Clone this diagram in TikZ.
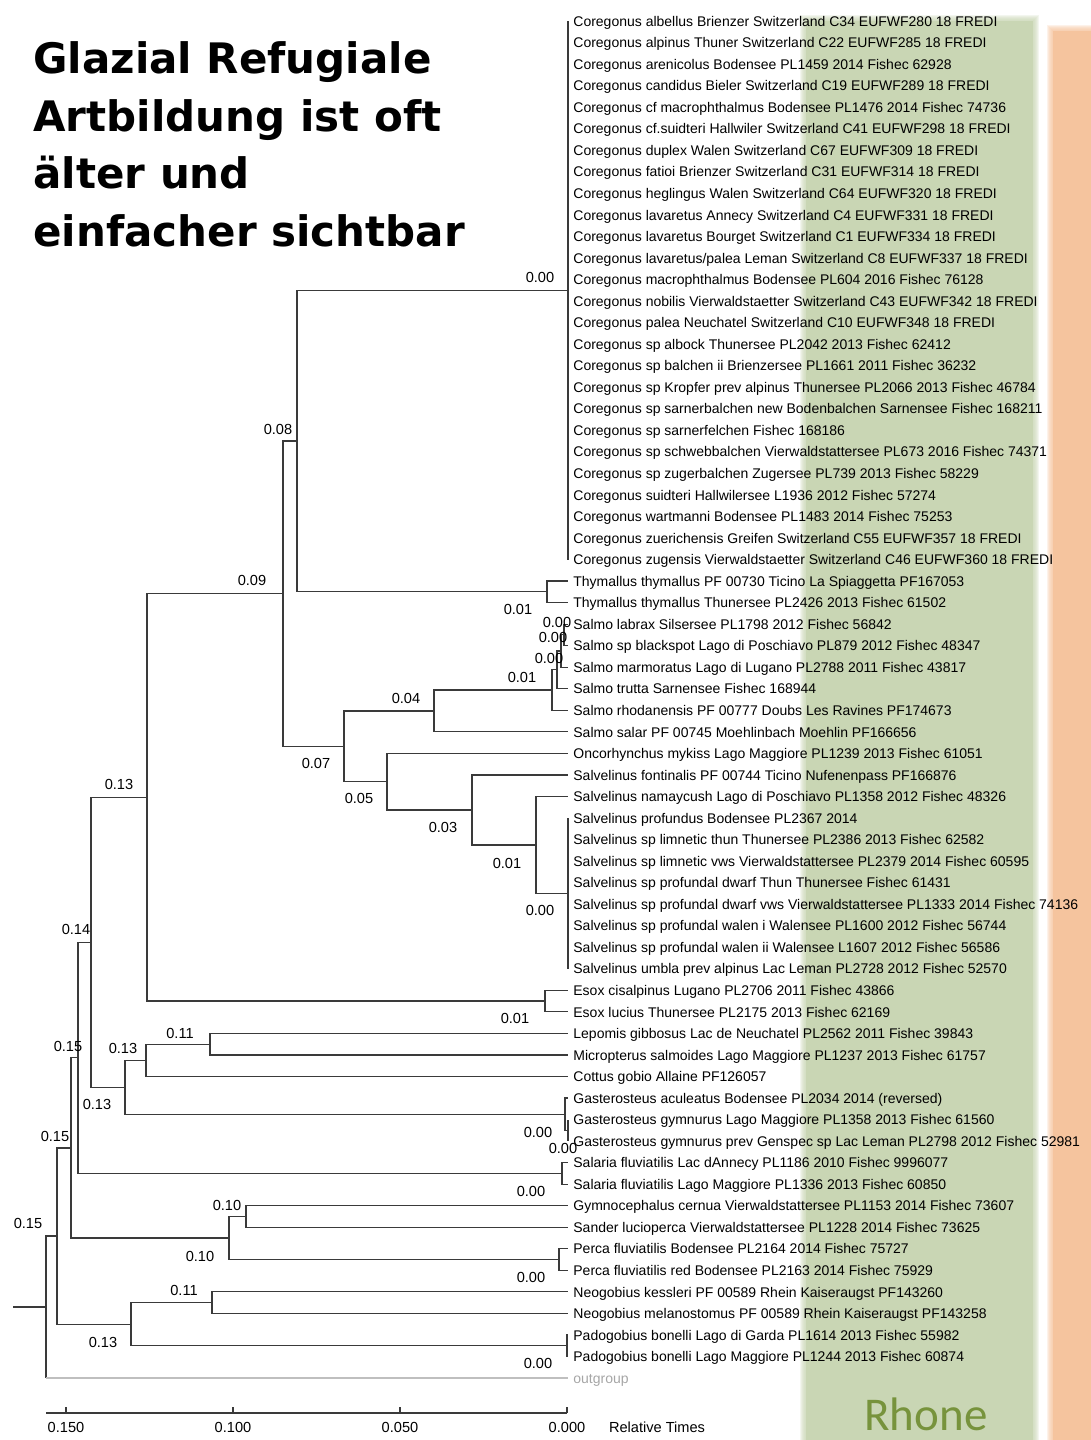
\documentclass[tikz,border=0pt]{standalone}
\usepackage{fontspec}
\usepackage{tikz}
\newfontfamily\treefont{Liberation Sans}
\newfontfamily\titlefont{DejaVu Sans}
\newfontfamily\rhonefont{Carlito}
\definecolor{bandgreen}{HTML}{C9D6B4}
\definecolor{bandorange}{HTML}{F5C49E}
\definecolor{rhonegreen}{HTML}{77933C}
\definecolor{branchgray}{HTML}{3A3A3A}

\begin{document}
\begin{tikzpicture}[
    x=0.5pt, y=-0.5pt,
    branch/.style={draw=branchgray, line width=0.6pt},
    outbranch/.style={draw=black!25, line width=0.6pt},
    leaf/.style={anchor=west, inner sep=0pt, text height=1.6ex, text depth=0.4ex,
                 font=\treefont\fontsize{7}{8}\selectfont},
    age/.style={inner sep=0pt, font=\treefont\fontsize{7.3}{8}\selectfont},
    title/.style={anchor=base west, inner sep=0pt,
                  font=\titlefont\bfseries\fontsize{21}{25}\selectfont},
  ]
  \useasboundingbox (0,0) rectangle (1091,1440);

  % coloured bands behind the tip labels, with soft edges
  \fill[bandgreen] (806,21) rectangle (1033,1440);
  \foreach \k in {1,...,6}
    \fill[bandgreen, opacity=0.22] (806-\k,21-\k) rectangle (1033+\k,1440);
  \fill[bandorange] (1053,31) rectangle (1091,1440);
  \foreach \k in {1,...,6}
    \fill[bandorange, opacity=0.22] (1053-\k,31-\k) rectangle (1091,1440);
  \node[anchor=base, inner sep=0pt, text=rhonegreen,
        font=\rhonefont\fontsize{23.5}{26}\selectfont] (rhone) at (926,1430) {Rhone};

  % title
  \node[title] (title1) at (33,73) {Glazial Refugiale};
  \node[title] (title2) at (33,131) {Artbildung ist oft};
  \node[title] (title3) at (33,188) {älter und};
  \node[title] (title4) at (33,246) {einfacher sichtbar};

  % tips
  \foreach \name [count=\i] in {
    {Coregonus albellus Brienzer Switzerland C34 EUFWF280 18 FREDI},
    {Coregonus alpinus Thuner Switzerland C22 EUFWF285 18 FREDI},
    {Coregonus arenicolus Bodensee PL1459 2014 Fishec 62928},
    {Coregonus candidus Bieler Switzerland C19 EUFWF289 18 FREDI},
    {Coregonus cf macrophthalmus Bodensee PL1476 2014 Fishec 74736},
    {Coregonus cf.suidteri Hallwiler Switzerland C41 EUFWF298 18 FREDI},
    {Coregonus duplex Walen Switzerland C67 EUFWF309 18 FREDI},
    {Coregonus fatioi Brienzer Switzerland C31 EUFWF314 18 FREDI},
    {Coregonus heglingus Walen Switzerland C64 EUFWF320 18 FREDI},
    {Coregonus lavaretus Annecy Switzerland C4 EUFWF331 18 FREDI},
    {Coregonus lavaretus Bourget Switzerland C1 EUFWF334 18 FREDI},
    {Coregonus lavaretus/palea Leman Switzerland C8 EUFWF337 18 FREDI},
    {Coregonus macrophthalmus Bodensee PL604 2016 Fishec 76128},
    {Coregonus nobilis Vierwaldstaetter Switzerland C43 EUFWF342 18 FREDI},
    {Coregonus palea Neuchatel Switzerland C10 EUFWF348 18 FREDI},
    {Coregonus sp albock Thunersee PL2042 2013 Fishec 62412},
    {Coregonus sp balchen ii Brienzersee PL1661 2011 Fishec 36232},
    {Coregonus sp Kropfer prev alpinus Thunersee PL2066 2013 Fishec 46784},
    {Coregonus sp sarnerbalchen new Bodenbalchen Sarnensee Fishec 168211},
    {Coregonus sp sarnerfelchen Fishec 168186},
    {Coregonus sp schwebbalchen Vierwaldstattersee PL673 2016 Fishec 74371},
    {Coregonus sp zugerbalchen Zugersee PL739 2013 Fishec 58229},
    {Coregonus suidteri Hallwilersee L1936 2012 Fishec 57274},
    {Coregonus wartmanni Bodensee PL1483 2014 Fishec 75253},
    {Coregonus zuerichensis Greifen Switzerland C55 EUFWF357 18 FREDI},
    {Coregonus zugensis Vierwaldstaetter Switzerland C46 EUFWF360 18 FREDI},
    {Thymallus thymallus PF 00730 Ticino La Spiaggetta PF167053},
    {Thymallus thymallus Thunersee PL2426 2013 Fishec 61502},
    {Salmo labrax Silsersee PL1798 2012 Fishec 56842},
    {Salmo sp blackspot Lago di Poschiavo PL879 2012 Fishec 48347},
    {Salmo marmoratus Lago di Lugano PL2788 2011 Fishec 43817},
    {Salmo trutta Sarnensee Fishec 168944},
    {Salmo rhodanensis PF 00777 Doubs Les Ravines PF174673},
    {Salmo salar PF 00745 Moehlinbach Moehlin PF166656},
    {Oncorhynchus mykiss Lago Maggiore PL1239 2013 Fishec 61051},
    {Salvelinus fontinalis PF 00744 Ticino Nufenenpass PF166876},
    {Salvelinus namaycush Lago di Poschiavo PL1358 2012 Fishec 48326},
    {Salvelinus profundus Bodensee PL2367 2014},
    {Salvelinus sp limnetic thun Thunersee PL2386 2013 Fishec 62582},
    {Salvelinus sp limnetic vws Vierwaldstattersee PL2379 2014 Fishec 60595},
    {Salvelinus sp profundal dwarf Thun Thunersee Fishec 61431},
    {Salvelinus sp profundal dwarf vws Vierwaldstattersee PL1333 2014 Fishec 74136},
    {Salvelinus sp profundal walen i Walensee PL1600 2012 Fishec 56744},
    {Salvelinus sp profundal walen ii Walensee L1607 2012 Fishec 56586},
    {Salvelinus umbla prev alpinus Lac Leman PL2728 2012 Fishec 52570},
    {Esox cisalpinus Lugano PL2706 2011 Fishec 43866},
    {Esox lucius Thunersee PL2175 2013 Fishec 62169},
    {Lepomis gibbosus Lac de Neuchatel PL2562 2011 Fishec 39843},
    {Micropterus salmoides Lago Maggiore PL1237 2013 Fishec 61757},
    {Cottus gobio Allaine PF126057},
    {Gasterosteus aculeatus Bodensee PL2034 2014 (reversed)},
    {Gasterosteus gymnurus Lago Maggiore PL1358 2013 Fishec 61560},
    {Gasterosteus gymnurus prev Genspec sp Lac Leman PL2798 2012 Fishec 52981},
    {Salaria fluviatilis Lac dAnnecy PL1186 2010 Fishec 9996077},
    {Salaria fluviatilis Lago Maggiore PL1336 2013 Fishec 60850},
    {Gymnocephalus cernua Vierwaldstattersee PL1153 2014 Fishec 73607},
    {Sander lucioperca Vierwaldstattersee PL1228 2014 Fishec 73625},
    {Perca fluviatilis Bodensee PL2164 2014 Fishec 75727},
    {Perca fluviatilis red Bodensee PL2163 2014 Fishec 75929},
    {Neogobius kessleri PF 00589 Rhein Kaiseraugst PF143260},
    {Neogobius melanostomus PF 00589 Rhein Kaiseraugst PF143258},
    {Padogobius bonelli Lago di Garda PL1614 2013 Fishec 55982},
    {Padogobius bonelli Lago Maggiore PL1244 2013 Fishec 60874}} {
    \coordinate (t\i) at (568,{21+(\i-1)*21.54});
    \node[leaf] (l\i) at (573,{21+(\i-1)*21.54}) {\name};
  }
  \coordinate (t64) at (568,1378.02);
  \node[leaf, text=black!35] (l64) at (573,1378.02) {outgroup};

  % internal nodes
  \coordinate (cor) at (568,290.25);
  \coordinate (thy) at (547,591.81);
  \coordinate (cothy) at (297,441.03);
  \coordinate (s1) at (564,634.89);
  \coordinate (s2) at (561,651.05);
  \coordinate (s3) at (557,669.89);
  \coordinate (salmo) at (552,690.09);
  \coordinate (salar) at (434,710.95);
  \coordinate (pro) at (568,893.37);
  \coordinate (nam) at (536,844.90);
  \coordinate (fon) at (472,809.90);
  \coordinate (onc) at (387,781.63);
  \coordinate (salm) at (344,746.29);
  \coordinate (salmon) at (283,593.66);
  \coordinate (esox) at (545,1001.07);
  \coordinate (esalm) at (147,797.37);
  \coordinate (lep) at (210,1044.15);
  \coordinate (cott) at (146,1060.31);
  \coordinate (gas2) at (568,1130.31);
  \coordinate (gas1) at (565,1114.16);
  \coordinate (perc) at (125,1087.24);
  \coordinate (d) at (91,942.31);
  \coordinate (sal) at (562,1173.39);
  \coordinate (c) at (78,1057.85);
  \coordinate (gym) at (246,1216.47);
  \coordinate (perca) at (559,1259.55);
  \coordinate (pc) at (229,1238.01);
  \coordinate (b) at (71,1147.93);
  \coordinate (neo) at (212,1302.63);
  \coordinate (pad) at (567,1345.71);
  \coordinate (gob) at (131,1324.17);
  \coordinate (a) at (57,1236.05);
  \coordinate (root) at (46,1307.04);
  \coordinate (stub) at (13,1307.04);

  % branches
  \draw[branch] (stub) -- (root);
  \draw[branch] (root) |- (a);
  \draw[branch] (root) -- (root |- t64);
  \draw[outbranch] (root |- t64) -- (t64);
  \draw[branch] (a) |- (b);
  \draw[branch] (a) |- (gob);
  \draw[branch] (b) |- (c);
  \draw[branch] (b) |- (pc);
  \draw[branch] (c) |- (d);
  \draw[branch] (c) |- (sal);
  \draw[branch] (d) |- (esalm);
  \draw[branch] (d) |- (perc);
  \draw[branch] (esalm) |- (salmon);
  \draw[branch] (esalm) |- (esox);
  \draw[branch] (salmon) |- (cothy);
  \draw[branch] (salmon) |- (salm);
  \draw[branch] (cothy) |- (cor);
  \draw[branch] (cothy) |- (thy);
  \foreach \i in {1,...,26} \draw[branch] (cor) |- (t\i);
  \draw[branch] (thy) |- (t27);
  \draw[branch] (thy) |- (t28);
  \draw[branch] (salm) |- (salar);
  \draw[branch] (salm) |- (onc);
  \draw[branch] (salar) |- (salmo);
  \draw[branch] (salar) |- (t34);
  \draw[branch] (salmo) |- (s3);
  \draw[branch] (salmo) |- (t33);
  \draw[branch] (s3) |- (s2);
  \draw[branch] (s3) |- (t32);
  \draw[branch] (s2) |- (s1);
  \draw[branch] (s2) |- (t31);
  \draw[branch] (s1) |- (t29);
  \draw[branch] (s1) |- (t30);
  \draw[branch] (onc) |- (t35);
  \draw[branch] (onc) |- (fon);
  \draw[branch] (fon) |- (t36);
  \draw[branch] (fon) |- (nam);
  \draw[branch] (nam) |- (t37);
  \draw[branch] (nam) |- (pro);
  \foreach \i in {38,...,45} \draw[branch] (pro) |- (t\i);
  \draw[branch] (esox) |- (t46);
  \draw[branch] (esox) |- (t47);
  \draw[branch] (perc) |- (cott);
  \draw[branch] (perc) |- (gas1);
  \draw[branch] (cott) |- (lep);
  \draw[branch] (cott) |- (t50);
  \draw[branch] (lep) |- (t48);
  \draw[branch] (lep) |- (t49);
  \draw[branch] (gas1) |- (t51);
  \draw[branch] (gas1) |- (gas2);
  \draw[branch] (gas2) |- (t52);
  \draw[branch] (gas2) |- (t53);
  \draw[branch] (sal) |- (t54);
  \draw[branch] (sal) |- (t55);
  \draw[branch] (pc) |- (gym);
  \draw[branch] (pc) |- (perca);
  \draw[branch] (gym) |- (t56);
  \draw[branch] (gym) |- (t57);
  \draw[branch] (perca) |- (t58);
  \draw[branch] (perca) |- (t59);
  \draw[branch] (gob) |- (neo);
  \draw[branch] (gob) |- (pad);
  \draw[branch] (neo) |- (t60);
  \draw[branch] (neo) |- (t61);
  \draw[branch] (pad) |- (t62);
  \draw[branch] (pad) |- (t63);

  % node ages
  \node[age] (age-cor) at (540,277) {0.00};
  \node[age] (age-thy) at (518,609) {0.01};
  \node[age] (age-cothy) at (278,429) {0.08};
  \node[age] (age-salmon) at (252,580) {0.09};
  \node[age] (age-esalm) at (119,784) {0.13};
  \node[age] (age-s1) at (557,622) {0.00};
  \node[age] (age-s2) at (553,637) {0.00};
  \node[age] (age-s3) at (549,658) {0.00};
  \node[age] (age-salmo) at (522,677) {0.01};
  \node[age] (age-salar) at (406,698) {0.04};
  \node[age] (age-salm) at (316,763) {0.07};
  \node[age] (age-onc) at (359,798) {0.05};
  \node[age] (age-fon) at (443,827) {0.03};
  \node[age] (age-nam) at (507,863) {0.01};
  \node[age] (age-pro) at (540,910) {0.00};
  \node[age] (age-esox) at (515,1018) {0.01};
  \node[age] (age-d) at (76,929) {0.14};
  \node[age] (age-c) at (68,1046) {0.15};
  \node[age] (age-cott) at (123,1048) {0.13};
  \node[age] (age-lep) at (180,1033) {0.11};
  \node[age] (age-perc) at (97,1104) {0.13};
  \node[age] (age-gas1) at (538,1132) {0.00};
  \node[age] (age-gas2) at (563,1148) {0.00};
  \node[age] (age-sal) at (531,1191) {0.00};
  \node[age] (age-b) at (55,1136) {0.15};
  \node[age] (age-gym) at (227,1205) {0.10};
  \node[age] (age-pc) at (200,1256) {0.10};
  \node[age] (age-perca) at (531,1277) {0.00};
  \node[age] (age-a) at (28,1223) {0.15};
  \node[age] (age-neo) at (184,1290) {0.11};
  \node[age] (age-gob) at (103,1342) {0.13};
  \node[age] (age-pad) at (538,1363) {0.00};

  % time axis
  \coordinate (ax0) at (46,1413);
  \coordinate (ax1) at (567,1413);
  \draw[branch] (ax0) -- (ax1);
  \foreach \x/\lab in {66/0.150, 233/0.100, 400/0.050, 567/0.000} {
    \draw[branch] (\x,1407) -- (\x,1413);
    \node[age] at (\x,1427) {\lab};
  }
  \node[age] (axtitle) at (657,1427) {Relative Times};
\end{tikzpicture}
\end{document}
